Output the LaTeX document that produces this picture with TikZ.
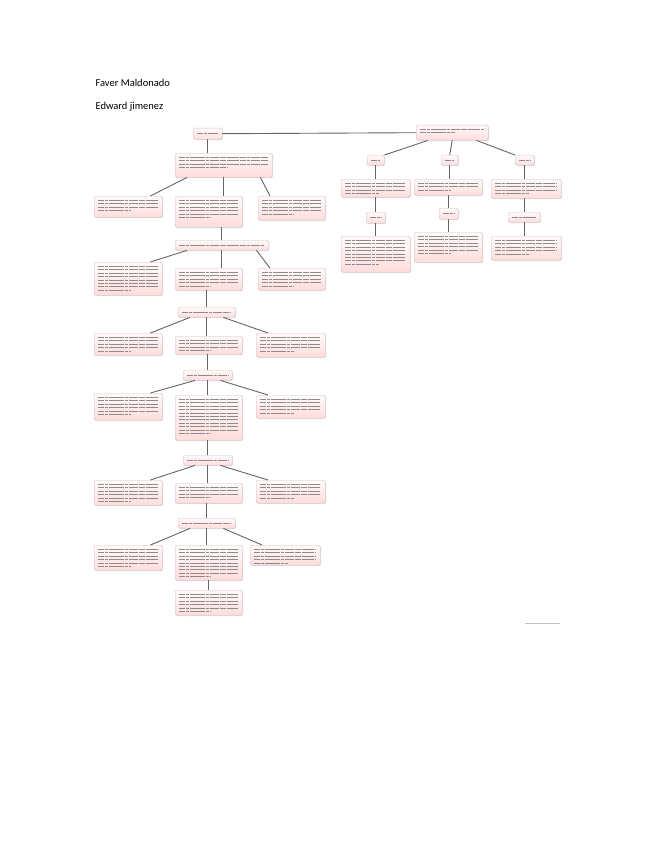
\documentclass[tikz,border=0pt]{standalone}
\usepackage{fontspec}
\setmainfont{Carlito}
\usetikzlibrary{shadows}
\begin{document}
\begin{tikzpicture}[x=1pt,y=-1pt,
  box/.style={draw=red!25!gray!40,line width=0.4pt,rounded corners=1.5pt,
    top color=white!85!red!10,bottom color=red!14,inner sep=0pt,
    drop shadow={shadow xshift=0.8pt,shadow yshift=-0.8pt,opacity=0.25}},
  txt/.style={draw=black!45,line width=0.7pt,dash pattern=on 6pt off 0.8pt on 3pt off 0.8pt on 9pt off 0.8pt},
  con/.style={draw=black!60,line width=0.9pt}]
\useasboundingbox[fill=white] (0,0) rectangle (655,848);
\newcommand\bx[6]{%
  \pgfmathsetmacro\bw{#4-#2}\pgfmathsetmacro\bh{#5-#3}%
  \node[box,minimum width=\bw pt,minimum height=\bh pt,anchor=north west] (#1) at (#2,#3) {};
  \foreach \i in {1,...,#6}{%
    \pgfmathsetmacro\yy{#3+1+3.4*\i}%
    \pgfmathsetmacro\xe{\i==#6 ? #2+4+0.55*(#4-#2-8) : #4-4}%
    \draw[txt] (#2+4,\yy) -- (\xe,\yy);}}
\newcommand\hb[5]{%
  \pgfmathsetmacro\bw{#4-#2}\pgfmathsetmacro\bh{#5-#3}%
  \node[box,minimum width=\bw pt,minimum height=\bh pt,anchor=north west] (#1) at (#2,#3) {};
  \pgfmathsetmacro\yy{(#3+#5)/2}%
  \draw[txt] (#2+4,\yy) -- (#4-4,\yy);}
\node[anchor=west,font=\fontsize{10.5}{12}\selectfont] (t1) at (92,83) {Faver Maldonado};
\node[anchor=west,font=\fontsize{10.5}{12}\selectfont] (t2) at (92,107) {Edward jimenez};
% left column
\hb{r}{193}{128}{222}{139}
\bx{b1}{175}{153}{272}{177}{4}
\bx{a2}{94}{196}{162}{217}{4}
\bx{m2}{175}{196}{242}{227}{6}
\bx{c2}{258}{196}{325}{220}{5}
\hb{h2}{175}{240}{268}{250}
\bx{a3}{94}{262}{162}{295}{8}
\bx{m3}{175}{268}{242}{290}{5}
\bx{c3}{258}{268}{325}{290}{5}
\hb{h3}{178}{307}{235}{317}
\bx{a4}{94}{333}{162}{355}{5}
\bx{m4}{175}{336}{242}{354}{4}
\bx{c4}{256}{333}{325}{357}{5}
\hb{h4}{183}{370}{232}{380}
\bx{a5}{94}{393}{162}{420}{6}
\bx{m5}{175}{395}{242}{440}{11}
\bx{c5}{256}{395}{325}{418}{5}
\hb{h5}{183}{455}{232}{465}
\bx{a6}{94}{480}{162}{505}{6}
\bx{m6}{175}{483}{242}{503}{4}
\bx{c6}{256}{480}{325}{503}{5}
\hb{h6}{178}{518}{235}{528}
\bx{a7}{94}{545}{162}{570}{6}
\bx{m7}{175}{545}{242}{580}{9}
\bx{c7}{250}{545}{320}{565}{5}
\bx{m8}{175}{590}{242}{615}{6}
% right part
\bx{R}{416}{125}{488}{140}{2}
\hb{k1}{367}{155}{384}{165}
\hb{k2}{441}{155}{458}{165}
\hb{k3}{515}{155}{534}{165}
\bx{p1}{341}{179}{410}{197}{4}
\bx{p2}{414}{179}{482}{195}{3}
\bx{p3}{491}{179}{561}{198}{4}
\hb{q1}{366}{212}{385}{223}
\hb{q2}{439}{208}{458}{219}
\hb{q3}{508}{212}{540}{222}
\bx{s1}{341}{236}{410}{272}{8}
\bx{s2}{414}{232}{482}{262}{6}
\bx{s3}{491}{236}{561}{260}{5}
\node[anchor=west,text=black!25,inner sep=0pt] (ft) at (525,623) {\rule{35pt}{0.5pt}};
% connectors
\draw[con] (r.east) -- (R.west);
\foreach \h/\a/\m/\c in {b1/a2/m2/c2,h2/a3/m3/c3,h3/a4/m4/c4,h4/a5/m5/c5,h5/a6/m6/c6,h6/a7/m7/c7}{
  \draw[con] (\h.south) -- (\h.south |- \m.north);
  \draw[con] ([xshift=12pt]\h.south west) -- ([xshift=-12pt]\a.north east);
  \draw[con] ([xshift=-12pt]\h.south east) -- ([xshift=12pt]\c.north west);}
\draw[con] (r.south) -- (r.south |- b1.north);
\foreach \m/\h in {m2/h2,m3/h3,m4/h4,m5/h5,m6/h6,m7/m8}
  \draw[con] (\h.north |- \m.south) -- (\h.north);
\draw[con] ([xshift=12pt]R.south west) -- (k1.north east);
\draw[con] (R.south) -- (k2.north);
\draw[con] ([xshift=-12pt]R.south east) -- (k3.north west);
\foreach \k/\p/\q/\s in {k1/p1/q1/s1,k2/p2/q2/s2,k3/p3/q3/s3}{
  \draw[con] (\k.south) -- (\k.south |- \p.north);
  \draw[con] (\q.north |- \p.south) -- (\q.north);
  \draw[con] (\q.south) -- (\q.south |- \s.north);}
\end{tikzpicture}
\end{document}
